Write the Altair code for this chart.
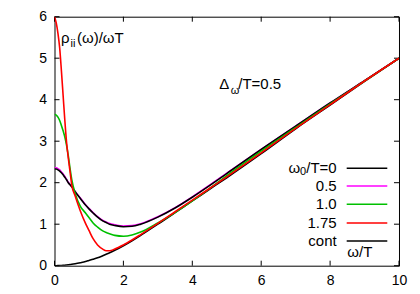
import altair as alt
import pandas as pd

# ---- data ----
x_vals = [0, 0.05, 0.1, 0.15, 0.2, 0.25, 0.3, 0.35, 0.4, 0.45, 0.5, 0.6, 0.75, 0.9, 1.0,
          1.12, 1.25, 1.4, 1.5, 1.6, 1.75, 2.0, 2.25, 2.5, 3.0, 3.5, 4.0, 4.5, 5, 6, 7, 8, 9, 10]

cont = [0, 0.0, 0.001, 0.003, 0.005, 0.008, 0.012, 0.017, 0.022, 0.027, 0.033, 0.047, 0.072, 0.1, 0.125,
        0.155, 0.19, 0.24, 0.275, 0.31, 0.37, 0.48, 0.6, 0.73, 1.0, 1.28, 1.56, 1.84, 2.12, 2.7, 3.3, 3.87, 4.44, 5.0]

w0_00 = [2.33, 2.33, 2.31, 2.28, 2.24, 2.19, 2.13, 2.07, 2.0, 1.95, 1.9, 1.78, 1.62, 1.46, 1.37,
         1.27, 1.17, 1.08, 1.04, 1.0, 0.97, 0.94, 0.95, 1.0, 1.17, 1.39, 1.65, 1.93, 2.22, 2.8, 3.36, 3.92, 4.46, 5.0]

w0_05 = [2.36, 2.36, 2.34, 2.31, 2.26, 2.21, 2.15, 2.08, 2.01, 1.96, 1.91, 1.79, 1.63, 1.47, 1.38,
         1.28, 1.18, 1.09, 1.05, 1.015, 0.985, 0.955, 0.965, 1.01, 1.18, 1.4, 1.66, 1.94, 2.23, 2.8, 3.36, 3.92, 4.46, 5.0]

w0_10 = [3.65, 3.63, 3.58, 3.5, 3.38, 3.25, 3.1, 2.9, 2.65, 2.35, 2.08, 1.74, 1.43, 1.27, 1.16,
         1.03, 0.93, 0.84, 0.8, 0.77, 0.73, 0.71, 0.74, 0.81, 1.03, 1.28, 1.56, 1.86, 2.17, 2.76, 3.33, 3.9, 4.45, 5.0]

w0_175 = [6.0, 5.85, 5.6, 5.25, 4.7, 4.1, 3.5, 2.97, 2.6, 2.27, 1.95, 1.68, 1.32, 1.02, 0.85,
          0.65, 0.5, 0.4, 0.36, 0.36, 0.4, 0.5, 0.62, 0.75, 1.02, 1.3, 1.58, 1.86, 2.14, 2.72, 3.31, 3.88, 4.45, 5.0]

x_ticks = [0, 2, 4, 6, 8, 10]
y_ticks = [0, 1, 2, 3, 4, 5, 6]

legend_labels = ["0.5", "1.0", "1.75", "cont"]
legend_colors = ["#ff00ff", "#00c000", "#ff0000", "#000000"]

# ---- layout ----
W, H = 344.5, 249
FONT = "Liberation Sans"
FS = 15
TFS = 14
SUB = 11

xs = alt.Scale(domain=[0, 10], nice=False, zero=False)
ys = alt.Scale(domain=[0, 6], nice=False, zero=False)

x_axis = alt.Axis(values=x_ticks, ticks=False, domain=False, grid=False, labelFontSize=TFS,
                  labelFont=FONT, labelPadding=8, labelColor="black", title=None, format="d",
                  labelFlush=False)
y_axis = alt.Axis(values=y_ticks, ticks=False, domain=False, grid=False, labelFontSize=TFS,
                  labelFont=FONT, labelPadding=8, labelColor="black", title=None, format="d",
                  labelFlush=False)


def curve(vals, color):
    df = pd.DataFrame({"x": x_vals, "y": vals})
    return alt.Chart(df).mark_line(color=color, strokeWidth=1.6, interpolate="monotone", clip=True).encode(
        x=alt.X("x:Q", scale=xs, axis=x_axis),
        y=alt.Y("y:Q", scale=ys, axis=y_axis),
    )


def txt(x, y, s, size=FS, align="left", baseline="alphabetic"):
    return alt.Chart(pd.DataFrame({"s": [s]})).mark_text(
        font=FONT, fontSize=size, align=align, baseline=baseline, color="black"
    ).encode(text="s:N", x=alt.value(x), y=alt.value(y))


def hline(x1, x2, y, color):
    return alt.Chart(pd.DataFrame({"a": [0]})).mark_rule(color=color, strokeWidth=1.6).encode(
        x=alt.value(x1), x2=alt.value(x2), y=alt.value(y))


tx = pd.DataFrame({"x": x_ticks})
ty = pd.DataFrame({"y": y_ticks})
ticks = [
    alt.Chart(tx).mark_rule(color="black").encode(x=alt.X("x:Q", scale=xs, axis=x_axis), y=alt.value(H), y2=alt.value(H - 5)),
    alt.Chart(tx).mark_rule(color="black").encode(x=alt.X("x:Q", scale=xs, axis=x_axis), y=alt.value(0), y2=alt.value(5)),
    alt.Chart(ty).mark_rule(color="black").encode(y=alt.Y("y:Q", scale=ys, axis=y_axis), x=alt.value(0), x2=alt.value(5)),
    alt.Chart(ty).mark_rule(color="black").encode(y=alt.Y("y:Q", scale=ys, axis=y_axis), x=alt.value(W), x2=alt.value(W - 5)),
]

curves = [
    curve(w0_05, "#ff00ff"),
    curve(w0_00, "#000000"),
    curve(cont, "#000000"),
    curve(w0_10, "#00c000"),
    curve(w0_175, "#ff0000"),
]

# annotations
annots = [
    txt(6.5, 26, "ρ"),
    txt(16.0, 30.6, "ii", size=SUB),
    txt(22.5, 26, "(ω)/ωT"),
    txt(164.8, 72.3, "Δ"),
    txt(176.2, 77.3, "ω", size=SUB),
    txt(183.8, 72.3, "/T=0.5"),
]

# legend
LX = 282.2
L1, L2 = 292.2, 332.8
rows = [151.6, 169.3, 187.6, 206.3, 224.3]
legend = [
    txt(LX, rows[0], "/T=0", baseline="middle", align="right"),
    txt(LX - 30.5, rows[0] + 4, "0", size=SUB, baseline="middle", align="right"),
    txt(LX - 36.5, rows[0], "ω", baseline="middle", align="right"),
    hline(L1, L2, rows[0], "#000000"),
]
for i, (lab, col) in enumerate(zip(legend_labels, legend_colors)):
    legend.append(txt(LX, rows[i + 1], lab, baseline="middle", align="right"))
    legend.append(hline(L1, L2, rows[i + 1], col))
legend.append(txt(292.8, 240, "ω/T"))

chart = alt.layer(*ticks, *curves, *annots, *legend).properties(
    width=W, height=H,
    autosize=alt.AutoSizeParams(type="none"),
    padding={"left": 46.5, "top": 8.7, "right": 10, "bottom": 30},
).configure_view(stroke="black", strokeWidth=1)

chart.save("out.html", embed_options={"renderer": "svg", "actions": False})
